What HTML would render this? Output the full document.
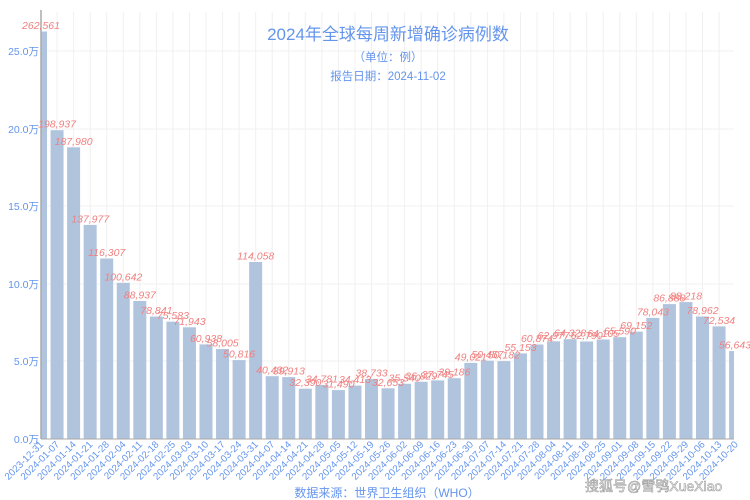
<!DOCTYPE html>
<html><head><meta charset="utf-8"><style>
html,body{margin:0;padding:0;background:#fff;width:750px;height:500px;overflow:hidden}
svg{display:block;font-family:"Liberation Sans","Noto Sans CJK SC",sans-serif}
.v{font-size:10.5px;fill:#f08080;font-style:italic;text-anchor:middle}
.x{font-size:9.8px;fill:#6495ed;text-anchor:end}
.y{font-size:10.5px;fill:#6495ed;text-anchor:end}
</style></head><body>
<svg width="750" height="500" viewBox="0 0 750 500">
<defs><clipPath id="c"><rect x="41" y="0" width="693" height="439"/></clipPath></defs>
<g stroke="#f0f0f0" stroke-width="1">
<line x1="41" x2="734" y1="51" y2="51"/><line x1="41" x2="734" y1="129" y2="129"/><line x1="41" x2="734" y1="206" y2="206"/><line x1="41" x2="734" y1="284" y2="284"/><line x1="41" x2="734" y1="361" y2="361"/>
<line x1="57" x2="57" y1="12" y2="439"/><line x1="73.6" x2="73.6" y1="12" y2="439"/><line x1="90.2" x2="90.2" y1="12" y2="439"/><line x1="106.7" x2="106.7" y1="12" y2="439"/><line x1="123.3" x2="123.3" y1="12" y2="439"/><line x1="139.8" x2="139.8" y1="12" y2="439"/><line x1="156.4" x2="156.4" y1="12" y2="439"/><line x1="172.9" x2="172.9" y1="12" y2="439"/><line x1="189.5" x2="189.5" y1="12" y2="439"/><line x1="206" x2="206" y1="12" y2="439"/><line x1="222.6" x2="222.6" y1="12" y2="439"/><line x1="239.1" x2="239.1" y1="12" y2="439"/><line x1="255.7" x2="255.7" y1="12" y2="439"/><line x1="272.2" x2="272.2" y1="12" y2="439"/><line x1="288.8" x2="288.8" y1="12" y2="439"/><line x1="305.3" x2="305.3" y1="12" y2="439"/><line x1="321.9" x2="321.9" y1="12" y2="439"/><line x1="338.4" x2="338.4" y1="12" y2="439"/><line x1="355" x2="355" y1="12" y2="439"/><line x1="371.5" x2="371.5" y1="12" y2="439"/><line x1="388" x2="388" y1="12" y2="439"/><line x1="404.6" x2="404.6" y1="12" y2="439"/><line x1="421.2" x2="421.2" y1="12" y2="439"/><line x1="437.7" x2="437.7" y1="12" y2="439"/><line x1="454.3" x2="454.3" y1="12" y2="439"/><line x1="470.8" x2="470.8" y1="12" y2="439"/><line x1="487.4" x2="487.4" y1="12" y2="439"/><line x1="503.9" x2="503.9" y1="12" y2="439"/><line x1="520.5" x2="520.5" y1="12" y2="439"/><line x1="537" x2="537" y1="12" y2="439"/><line x1="553.6" x2="553.6" y1="12" y2="439"/><line x1="570.1" x2="570.1" y1="12" y2="439"/><line x1="586.7" x2="586.7" y1="12" y2="439"/><line x1="603.2" x2="603.2" y1="12" y2="439"/><line x1="619.8" x2="619.8" y1="12" y2="439"/><line x1="636.3" x2="636.3" y1="12" y2="439"/><line x1="652.9" x2="652.9" y1="12" y2="439"/><line x1="669.4" x2="669.4" y1="12" y2="439"/><line x1="686" x2="686" y1="12" y2="439"/><line x1="702.5" x2="702.5" y1="12" y2="439"/><line x1="719.1" x2="719.1" y1="12" y2="439"/>
</g>
<g fill="#b0c4de" clip-path="url(#c)">
<rect x="34" y="31.5" width="13" height="407.5"/><rect x="50.55" y="130.2" width="13" height="308.8"/><rect x="67.1" y="147.3" width="13" height="291.7"/><rect x="83.65" y="224.9" width="13" height="214.1"/><rect x="100.2" y="258.5" width="13" height="180.5"/><rect x="116.75" y="282.8" width="13" height="156.2"/><rect x="133.3" y="301" width="13" height="138"/><rect x="149.85" y="316.6" width="13" height="122.4"/><rect x="166.4" y="321.7" width="13" height="117.3"/><rect x="182.95" y="327.3" width="13" height="111.7"/><rect x="199.5" y="344.4" width="13" height="94.6"/><rect x="216.05" y="349" width="13" height="90"/><rect x="232.6" y="360.1" width="13" height="78.9"/><rect x="249.15" y="262" width="13" height="177"/><rect x="265.7" y="376.2" width="13" height="62.8"/><rect x="282.25" y="377.1" width="13" height="61.9"/><rect x="298.8" y="388.7" width="13" height="50.3"/><rect x="315.35" y="385" width="13" height="54"/><rect x="331.9" y="390.1" width="13" height="48.9"/><rect x="348.45" y="385.6" width="13" height="53.4"/><rect x="365" y="378.9" width="13" height="60.1"/><rect x="381.55" y="388.3" width="13" height="50.7"/><rect x="398.1" y="383.8" width="13" height="55.2"/><rect x="414.65" y="381.8" width="13" height="57.2"/><rect x="431.2" y="380.4" width="13" height="58.6"/><rect x="447.75" y="378.2" width="13" height="60.8"/><rect x="464.3" y="362.9" width="13" height="76.1"/><rect x="480.85" y="360.7" width="13" height="78.3"/><rect x="497.4" y="361.1" width="13" height="77.9"/><rect x="513.95" y="353.4" width="13" height="85.6"/><rect x="530.5" y="344.5" width="13" height="94.5"/><rect x="547.05" y="341.3" width="13" height="97.7"/><rect x="563.6" y="339.2" width="13" height="99.8"/><rect x="580.15" y="341.5" width="13" height="97.5"/><rect x="596.7" y="339.5" width="13" height="99.5"/><rect x="613.25" y="337.2" width="13" height="101.8"/><rect x="629.8" y="331.7" width="13" height="107.3"/><rect x="646.35" y="317.9" width="13" height="121.1"/><rect x="662.9" y="304.1" width="13" height="134.9"/><rect x="679.45" y="302.1" width="13" height="136.9"/><rect x="696" y="316.5" width="13" height="122.5"/><rect x="712.55" y="326.4" width="13" height="112.6"/><rect x="729.1" y="351.1" width="13" height="87.9"/>
</g>
<line x1="41" x2="41" y1="10" y2="439" stroke="#aaa" stroke-width="1.5"/>
<line x1="41" x2="734" y1="439" y2="439" stroke="#aaa" stroke-width="1"/>
<g class="y">
<text x="39" y="443">0.0万</text><text x="39" y="365">5.0万</text><text x="39" y="288">10.0万</text><text x="39" y="210">15.0万</text><text x="39" y="133">20.0万</text><text x="39" y="55">25.0万</text>
</g>
<g class="v">
<text x="41" y="29">262,561</text><text x="57" y="127.7">198,937</text><text x="73.6" y="144.8">187,980</text><text x="90.2" y="222.4">137,977</text><text x="106.7" y="256">116,307</text><text x="123.3" y="280.3">100,642</text><text x="139.8" y="298.5">88,937</text><text x="156.4" y="314.1">78,841</text><text x="172.9" y="319.2">75,583</text><text x="189.5" y="324.8">71,943</text><text x="206" y="341.9">60,938</text><text x="222.6" y="346.5">58,005</text><text x="239.1" y="357.6">50,816</text><text x="255.7" y="259.5">114,058</text><text x="272.2" y="373.7">40,432</text><text x="288.8" y="374.6">39,913</text><text x="305.3" y="386.2">32,390</text><text x="321.9" y="382.5">34,781</text><text x="338.4" y="387.6">31,490</text><text x="355" y="383.1">34,413</text><text x="371.5" y="376.4">38,733</text><text x="388" y="385.8">32,653</text><text x="404.6" y="381.3">35,540</text><text x="421.2" y="379.3">36,829</text><text x="437.7" y="377.9">37,745</text><text x="454.3" y="375.7">39,186</text><text x="470.8" y="360.4">49,021</text><text x="487.4" y="358.2">50,457</text><text x="503.9" y="358.6">50,182</text><text x="520.5" y="350.9">55,153</text><text x="537" y="342">60,874</text><text x="553.6" y="338.8">62,977</text><text x="570.1" y="336.7">64,328</text><text x="586.7" y="339">62,790</text><text x="603.2" y="337">64,105</text><text x="619.8" y="334.7">65,590</text><text x="636.3" y="329.2">69,152</text><text x="652.9" y="315.4">78,043</text><text x="669.4" y="301.6">86,888</text><text x="686" y="299.6">88,218</text><text x="702.5" y="314">78,962</text><text x="719.1" y="323.9">72,534</text><text x="735" y="348.6">56,643</text>
</g>
<g class="x">
<text transform="translate(44,445) rotate(-45)">2023-12-31</text><text transform="translate(60,445) rotate(-45)">2024-01-07</text><text transform="translate(76.6,445) rotate(-45)">2024-01-14</text><text transform="translate(93.2,445) rotate(-45)">2024-01-21</text><text transform="translate(109.7,445) rotate(-45)">2024-01-28</text><text transform="translate(126.3,445) rotate(-45)">2024-02-04</text><text transform="translate(142.8,445) rotate(-45)">2024-02-11</text><text transform="translate(159.4,445) rotate(-45)">2024-02-18</text><text transform="translate(175.9,445) rotate(-45)">2024-02-25</text><text transform="translate(192.5,445) rotate(-45)">2024-03-03</text><text transform="translate(209,445) rotate(-45)">2024-03-10</text><text transform="translate(225.6,445) rotate(-45)">2024-03-17</text><text transform="translate(242.1,445) rotate(-45)">2024-03-24</text><text transform="translate(258.7,445) rotate(-45)">2024-03-31</text><text transform="translate(275.2,445) rotate(-45)">2024-04-07</text><text transform="translate(291.8,445) rotate(-45)">2024-04-14</text><text transform="translate(308.3,445) rotate(-45)">2024-04-21</text><text transform="translate(324.9,445) rotate(-45)">2024-04-28</text><text transform="translate(341.4,445) rotate(-45)">2024-05-05</text><text transform="translate(358,445) rotate(-45)">2024-05-12</text><text transform="translate(374.5,445) rotate(-45)">2024-05-19</text><text transform="translate(391,445) rotate(-45)">2024-05-26</text><text transform="translate(407.6,445) rotate(-45)">2024-06-02</text><text transform="translate(424.2,445) rotate(-45)">2024-06-09</text><text transform="translate(440.7,445) rotate(-45)">2024-06-16</text><text transform="translate(457.3,445) rotate(-45)">2024-06-23</text><text transform="translate(473.8,445) rotate(-45)">2024-06-30</text><text transform="translate(490.4,445) rotate(-45)">2024-07-07</text><text transform="translate(506.9,445) rotate(-45)">2024-07-14</text><text transform="translate(523.5,445) rotate(-45)">2024-07-21</text><text transform="translate(540,445) rotate(-45)">2024-07-28</text><text transform="translate(556.6,445) rotate(-45)">2024-08-04</text><text transform="translate(573.1,445) rotate(-45)">2024-08-11</text><text transform="translate(589.7,445) rotate(-45)">2024-08-18</text><text transform="translate(606.2,445) rotate(-45)">2024-08-25</text><text transform="translate(622.8,445) rotate(-45)">2024-09-01</text><text transform="translate(639.3,445) rotate(-45)">2024-09-08</text><text transform="translate(655.9,445) rotate(-45)">2024-09-15</text><text transform="translate(672.4,445) rotate(-45)">2024-09-22</text><text transform="translate(689,445) rotate(-45)">2024-09-29</text><text transform="translate(705.5,445) rotate(-45)">2024-10-06</text><text transform="translate(722.1,445) rotate(-45)">2024-10-13</text><text transform="translate(738.6,445) rotate(-45)">2024-10-20</text>
</g>
<text x="388" y="40" text-anchor="middle" font-size="17" fill="#6495ed">2024年全球每周新增确诊病例数</text>
<text x="388" y="61" text-anchor="middle" font-size="11.5" fill="#6495ed">（单位：例）</text>
<text x="388" y="80" text-anchor="middle" font-size="11.5" fill="#6495ed">报告日期：2024-11-02</text>
<text x="387" y="497" text-anchor="middle" font-size="12" fill="#6495ed">数据来源：世界卫生组织（WHO）</text>
<text x="585" y="491" font-size="14" fill="#fff" stroke="#999" stroke-width="0.6">搜狐号@雪鸮XueXiao</text>
</svg>
</body></html>
